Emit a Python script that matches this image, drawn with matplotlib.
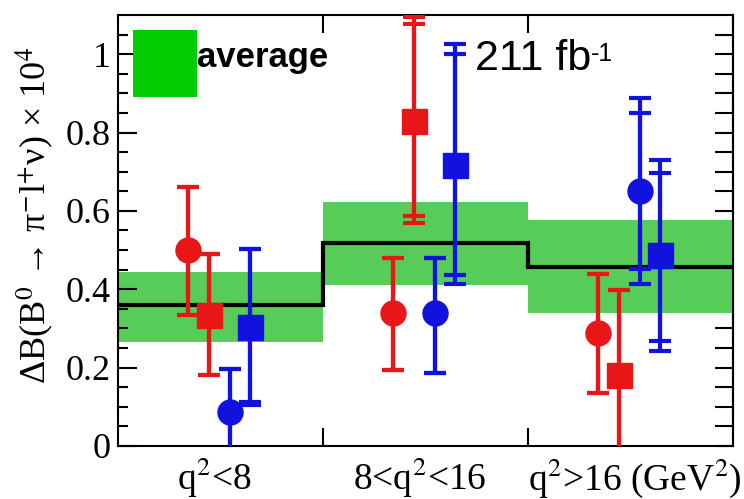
import matplotlib
matplotlib.use("Agg")
import matplotlib.pyplot as plt
import numpy as np
from matplotlib.patches import Rectangle
from matplotlib.transforms import blended_transform_factory

plt.rcParams['font.family'] = ['Liberation Serif', 'DejaVu Serif']
plt.rcParams['font.serif'] = ['Liberation Serif', 'DejaVu Serif']
plt.rcParams['mathtext.fontset'] = 'stix'

SERIF = ['Liberation Serif', 'DejaVu Serif']

# ---------------- data ----------------
bin_edges = [0, 1, 2, 3]
bin_labels = [r'q$^2$<8', r'8<q$^2$<16', r'q$^2$>16 (GeV$^2$)']
ytick_values = [0, 0.2, 0.4, 0.6, 0.8, 1.0]
ytick_labels = ['0', '0.2', '0.4', '0.6', '0.8', '1']

avg_value = [0.360, 0.517, 0.456]
avg_low = [0.265, 0.410, 0.339]
avg_high = [0.443, 0.622, 0.577]

# series: value, stat low/high bounds, total low/high bounds
red_circle = [0.499, 0.339, 0.288]
red_circle_stat_lo = [0.334, 0.194, 0.135]
red_circle_stat_hi = [0.662, 0.479, 0.440]
red_circle_tot_lo = [0.334, 0.194, 0.135]
red_circle_tot_hi = [0.662, 0.479, 0.440]

red_square = [0.334, 0.830, 0.181]
red_square_stat_lo = [0.180, 0.586, -0.06]
red_square_stat_hi = [0.490, 1.077, 0.397]
red_square_tot_lo = [0.180, 0.568, -0.06]
red_square_tot_hi = [0.490, 1.095, 0.397]

blue_circle = [0.087, 0.339, 0.652]
blue_circle_stat_lo = [-0.06, 0.186, 0.453]
blue_circle_stat_hi = [0.196, 0.479, 0.851]
blue_circle_tot_lo = [-0.06, 0.186, 0.413]
blue_circle_tot_hi = [0.196, 0.479, 0.889]

blue_square = [0.303, 0.718, 0.487]
blue_square_stat_lo = [0.112, 0.436, 0.268]
blue_square_stat_hi = [0.502, 1.001, 0.696]
blue_square_tot_lo = [0.105, 0.413, 0.242]
blue_square_tot_hi = [0.502, 1.027, 0.729]

offsets = [0.343, 0.444, 0.546, 0.646]

RED = '#e81616'
BLUE = '#1212e0'
BAND = '#58cc58'

fig = plt.figure(figsize=(7.44, 4.99), dpi=100)
ax = fig.add_axes([118/744, 53/499, 615/744, 431/499])

# band and average line
ax.stairs(avg_high, bin_edges, baseline=avg_low, fill=True, color=BAND, lw=0, zorder=1)
ax.stairs(avg_value, bin_edges, baseline=None, color='black', lw=3, zorder=2)

series = [
    (red_circle, red_circle_stat_lo, red_circle_stat_hi, red_circle_tot_lo, red_circle_tot_hi, RED, 'o'),
    (red_square, red_square_stat_lo, red_square_stat_hi, red_square_tot_lo, red_square_tot_hi, RED, 's'),
    (blue_circle, blue_circle_stat_lo, blue_circle_stat_hi, blue_circle_tot_lo, blue_circle_tot_hi, BLUE, 'o'),
    (blue_square, blue_square_stat_lo, blue_square_stat_hi, blue_square_tot_lo, blue_square_tot_hi, BLUE, 's'),
]
centers = np.array(bin_edges[:-1], dtype=float)
for off, (val, slo, shi, tlo, thi, col, mk) in zip(offsets, series):
    val = np.array(val)
    x = centers + off
    tot_err = [val - np.array(tlo), np.array(thi) - val]
    stat_err = [val - np.array(slo), np.array(shi) - val]
    ax.errorbar(x, val, yerr=tot_err, fmt='none', ecolor=col, elinewidth=3,
                capsize=8, capthick=3, zorder=3)
    ax.errorbar(x, val, yerr=stat_err, fmt=mk, color=col, ms=18, mec=col,
                elinewidth=3, capsize=8, capthick=3, zorder=4)

ax.set_xlim(0, 3)
ax.set_ylim(0, 1.1)

# y ticks
ax.set_yticks(ytick_values)
ax.set_yticklabels(ytick_labels, fontfamily=SERIF, fontsize=26)
ax.set_yticks(np.arange(0, 1.1, 0.05), minor=True)
ax.tick_params(axis='y', which='major', direction='in', length=14, width=1.5,
               pad=5, left=True, right=False)
ax.tick_params(axis='y', which='minor', direction='in', length=7, width=1.5,
               left=True, right=False)
sec = ax.secondary_yaxis('right')
sec.set_yticks(ytick_values)
sec.set_yticks(np.arange(0, 1.1, 0.05), minor=True)
sec.tick_params(which='both', direction='in', length=13, width=1.5, labelright=False)
sec.spines['right'].set_linewidth(1.5)

# x ticks at bin boundaries
ax.set_xticks(bin_edges[1:-1])
ax.set_xticklabels([])
ax.tick_params(axis='x', which='major', direction='in', length=13, width=1.5,
               top=True, bottom=True)
ax.tick_params(axis='x', which='minor', bottom=False, top=False)

for sp in ax.spines.values():
    sp.set_linewidth(1.5)

trans = blended_transform_factory(ax.transData, ax.transAxes)
yb = -(490 - 446) / 431
ax.text(centers[0] + 0.47, yb, bin_labels[0], transform=trans, ha='center', va='baseline',
        fontsize=27, fontfamily=SERIF)
ax.text(centers[1] + 0.47, yb, bin_labels[1], transform=trans, ha='center', va='baseline',
        fontsize=27, fontfamily=SERIF)
ax.text(centers[2] + 1.045, yb, bin_labels[2], transform=trans, ha='right', va='baseline',
        fontsize=27, fontfamily=SERIF)

# y label
fig.text(35/744, 1 - 215/499, r'ΔB(B$^0$ → π$^{-}$l$^{+}$ν) × 10$^4$',
         rotation=90, ha='center', va='center', fontsize=26, fontfamily=SERIF)

# legend box
ax.add_patch(Rectangle((15/615, (446-97)/431), 64/615, 67/431, transform=ax.transAxes,
                       facecolor='#00cc00', edgecolor='none', zorder=5, clip_on=False))
ax.text(79/615, (446-67)/431, 'average', transform=ax.transAxes, fontsize=25,
        fontweight='bold', family='Liberation Sans', va='baseline', ha='left', zorder=6)
t211 = ax.text((475-118)/615, (446-70)/431, '211 fb', transform=ax.transAxes,
               fontsize=31, family='Liberation Sans', va='baseline', ha='left', zorder=6)
ax.annotate('-1', xy=(1.0, 0.93), xycoords=t211, ha='left', va='top',
            fontsize=18, family='Liberation Sans', zorder=6)

fig.savefig('out.png', dpi=100)
